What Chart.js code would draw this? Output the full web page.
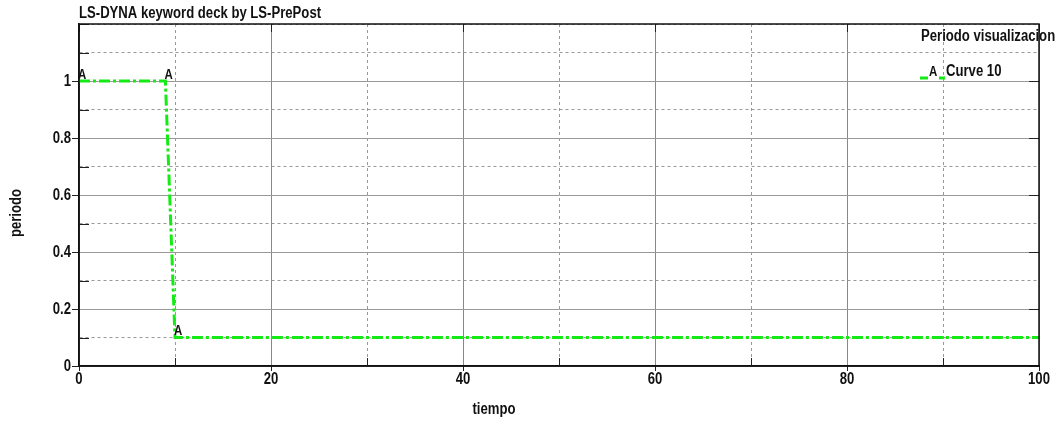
<!DOCTYPE html>
<html>
<head>
<meta charset="utf-8">
<script src="https://cdn.jsdelivr.net/npm/chart.js@4"></script>
<style>
  html, body { margin: 0; padding: 0; background: #fff; }
  #grafica { display: block; }
</style>
</head>
<body>
<canvas id="grafica" width="1058" height="421"></canvas>
<script>
// datos
const tiempo = [0, 9, 10, 100];
const periodo = [1, 1, 0.1, 0.1];
const marcas = ['A', 'A', 'A', ''];
const etiquetasX = [0, 20, 40, 60, 80, 100];
const etiquetasY = [0, 0.2, 0.4, 0.6, 0.8, 1];

const titulo = 'LS-DYNA keyword deck by LS-PrePost';
const tituloLeyenda = 'Periodo visualizacion';
const nombreCurva = 'Curve 10';
const tituloX = 'tiempo';
const tituloY = 'periodo';

const verde = 'rgb(20,235,20)';
const fuente = '"Liberation Sans", Arial, sans-serif';

const esMayorX = v => etiquetasX.includes(Math.round(v));
const esMayorY = v => etiquetasY.some(e => Math.abs(e - v) < 1e-6);

// texto estrecho (la fuente original es tipo Arial Narrow)
function texto(ctx, s, x, y, align, size, giro) {
  ctx.save();
  ctx.font = 'bold ' + size + 'px ' + fuente;
  ctx.fillStyle = '#111';
  ctx.textAlign = align;
  ctx.textBaseline = 'middle';
  ctx.translate(x, y);
  if (giro) ctx.rotate(giro);
  ctx.scale(0.82, 1);
  ctx.fillText(s, 0, 0);
  ctx.restore();
}

// texto, marco y leyenda dibujados encima
const extras = {
  id: 'extras',
  afterDraw(chart) {
    const { ctx, chartArea: a, scales } = chart;
    ctx.save();

    // marcas cortas
    ctx.strokeStyle = '#222';
    ctx.lineWidth = 1;
    ctx.beginPath();
    scales.y.ticks.forEach(t => {
      const py = Math.round(scales.y.getPixelForValue(t.value)) + 0.5;
      if (esMayorY(t.value)) {
        ctx.moveTo(a.left - 7, py); ctx.lineTo(a.left, py);
        ctx.moveTo(a.right - 10, py); ctx.lineTo(a.right, py);
      } else {
        ctx.moveTo(a.left, py); ctx.lineTo(a.left + 10, py);
      }
    });
    scales.x.ticks.forEach(t => {
      const px = Math.round(scales.x.getPixelForValue(t.value)) + 0.5;
      if (esMayorX(t.value)) {
        ctx.moveTo(px, a.bottom); ctx.lineTo(px, a.bottom + 5);
        ctx.moveTo(px, a.top); ctx.lineTo(px, a.top + 8);
      } else {
        ctx.moveTo(px, a.bottom); ctx.lineTo(px, a.bottom - 8);
      }
    });
    ctx.stroke();

    // marco
    ctx.strokeStyle = '#111';
    ctx.lineWidth = 1.5;
    ctx.strokeRect(a.left, a.top, a.right - a.left, a.bottom - a.top);
    ctx.restore();

    // etiquetas de los ejes
    etiquetasY.forEach(v => texto(ctx, String(v), a.left - 8, scales.y.getPixelForValue(v) + 1, 'right', 16));
    etiquetasX.forEach(v => texto(ctx, String(v), scales.x.getPixelForValue(v), 380, 'center', 16));

    // letras en los puntos
    const meta = chart.getDatasetMeta(0);
    meta.data.forEach((p, i) => {
      if (marcas[i]) texto(ctx, marcas[i], p.x - 1, p.y - 6, 'left', 14);
    });

    // titulo
    texto(ctx, titulo, a.left, 14, 'left', 16);

    // leyenda
    texto(ctx, tituloLeyenda, 921, 37, 'left', 16);
    texto(ctx, nombreCurva, 946, 72, 'left', 16);
    texto(ctx, 'A', 929, 72, 'left', 14);
    ctx.save();
    ctx.strokeStyle = verde;
    ctx.lineWidth = 3;
    ctx.beginPath();
    ctx.moveTo(920, 78); ctx.lineTo(928, 78);
    ctx.moveTo(939, 78); ctx.lineTo(945, 78);
    ctx.stroke();
    ctx.restore();

    // titulos de ejes
    texto(ctx, tituloX, 494, 410, 'center', 16);
    texto(ctx, tituloY, 17, 213, 'center', 16, -Math.PI / 2);
  }
};

new Chart(document.getElementById('grafica').getContext('2d'), {
  type: 'line',
  data: {
    datasets: [{
      label: nombreCurva,
      data: tiempo.map((t, i) => ({ x: t, y: periodo[i] })),
      borderColor: verde,
      borderWidth: 3,
      borderDash: [11, 3, 3, 3],
      pointRadius: 0,
      tension: 0,
      fill: false
    }]
  },
  options: {
    responsive: false,
    animation: false,
    events: [],
    layout: { padding: { top: 24, right: 19, bottom: 0, left: 0 } },
    plugins: {
      legend: { display: false },
      title: { display: false },
      tooltip: { enabled: false }
    },
    scales: {
      x: {
        type: 'linear',
        min: 0,
        max: 100,
        afterFit(s) { s.height = 55; },
        ticks: {
          stepSize: 10,
          autoSkip: false,
          maxRotation: 0,
          callback: () => ''
        },
        grid: {
          color: c => c.tick && esMayorX(c.tick.value) ? '#888' : '#999',
          lineWidth: 1,
          drawTicks: false
        },
        border: {
          color: '#111',
          width: 1.5,
          dash: c => c.tick && !esMayorX(c.tick.value) ? [3, 3] : []
        }
      },
      y: {
        min: 0,
        max: 1.2,
        afterFit(s) { s.width = 79; },
        ticks: {
          stepSize: 0.1,
          autoSkip: false,
          callback: () => ''
        },
        grid: {
          color: '#999',
          lineWidth: 1,
          drawTicks: false
        },
        border: {
          color: '#111',
          width: 1.5,
          dash: c => c.tick && !esMayorY(c.tick.value) ? [3, 3] : []
        }
      }
    }
  },
  plugins: [extras]
});
</script>
</body>
</html>
